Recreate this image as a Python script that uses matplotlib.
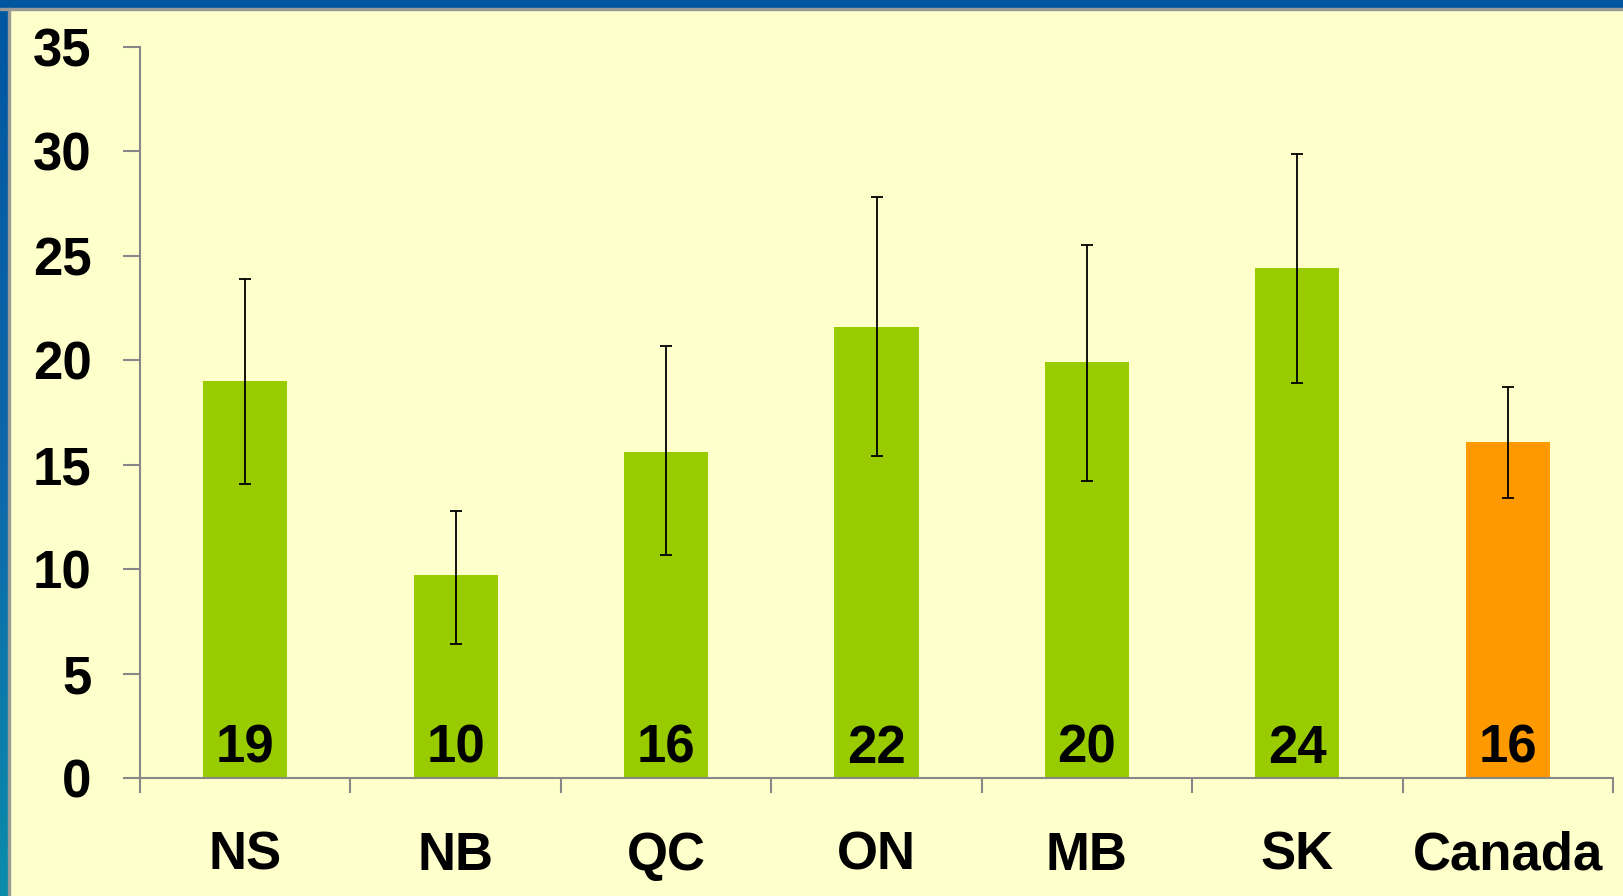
import matplotlib
matplotlib.use("Agg")
import matplotlib.pyplot as plt
from matplotlib.colors import LinearSegmentedColormap
from matplotlib.patches import Rectangle
import numpy as np

regions = ["NS", "NB", "QC", "ON", "MB", "SK", "Canada"]
values = [19.0, 9.7, 15.6, 21.6, 19.9, 24.4, 16.1]
err_low = [14.1, 6.4, 10.7, 15.4, 14.2, 18.9, 13.4]
err_high = [23.9, 12.8, 20.7, 27.8, 25.5, 29.9, 18.7]
labels = ["19", "10", "16", "22", "20", "24", "16"]
colors = ["#99CC00"] * 6 + ["#FF9900"]
yticks = [0, 5, 10, 15, 20, 25, 30, 35]

plt.rcParams["font.family"] = ["Liberation Sans", "DejaVu Sans"]
plt.rcParams["font.weight"] = "bold"

W, H = 1623, 896
bg = "#FFFFCC"
fs = 38
fig = plt.figure(figsize=(W / 100, H / 100), dpi=100, facecolor=bg)

# frame: blue band on top, gradient strip on the left, thin gray edge
fig.patches.append(Rectangle((0, 1 - 8 / H), 1, 8 / H, transform=fig.transFigure,
                             color="#0057A0", zorder=0))
fig.patches.append(Rectangle((0, 1 - 10 / H), 1, 2 / H, transform=fig.transFigure,
                             color="#999999", zorder=0))
fig.patches.append(Rectangle((8 / W, 0), 2 / W, 1 - 8 / H, transform=fig.transFigure,
                             color="#999999", zorder=0))
strip = fig.add_axes([0, 0, 8 / W, 1 - 8 / H])
cmap = LinearSegmentedColormap.from_list("edge", ["#0A8CAA", "#0E66AA", "#0057A0"])
strip.imshow(np.linspace(0, 1, 256).reshape(-1, 1), aspect="auto", cmap=cmap,
             origin="lower", extent=[0, 1, 0, 1])
strip.axis("off")

ax = fig.add_axes([140 / W, 1 - 778 / H, (1613 - 140) / W, (778 - 47) / H])
ax.set_facecolor(bg)

x = np.arange(len(regions))
vals = np.array(values)
yerr = [vals - np.array(err_low), np.array(err_high) - vals]
ax.bar(x, vals, width=0.4, color=colors, zorder=2)
ax.errorbar(x, vals, yerr=yerr, fmt="none", ecolor="black", elinewidth=1.3,
            capsize=4, capthick=1.3, zorder=3)

for xi, lab in zip(x, labels):
    ax.annotate(lab, (xi, 0), xytext=(0, 11), textcoords="offset points",
                ha="center", va="baseline", fontsize=fs, fontweight="bold", zorder=4)

ax.set_xlim(-0.5, len(regions) - 0.5)
ax.set_ylim(0, 35)
ax.set_yticks(yticks)
ax.set_yticklabels([str(t) for t in yticks])
ax.set_xticks(x)
ax.set_xticklabels(regions)
ax.set_xticks(np.arange(len(regions) + 1) - 0.5, minor=True)

for s in ["top", "right"]:
    ax.spines[s].set_visible(False)
for s in ["left", "bottom"]:
    ax.spines[s].set_color("#888888")
    ax.spines[s].set_linewidth(1.5)

ax.tick_params(axis="y", which="major", length=12, width=1.5, color="#888888",
               pad=23, labelsize=fs)
ax.tick_params(axis="x", which="major", length=0, pad=38, labelsize=fs)
ax.tick_params(axis="x", which="minor", length=11, width=1.5, color="#888888")
for t in ax.get_xticklabels() + ax.get_yticklabels():
    t.set_fontweight("bold")

fig.savefig("out.png", dpi=100, facecolor=bg)
